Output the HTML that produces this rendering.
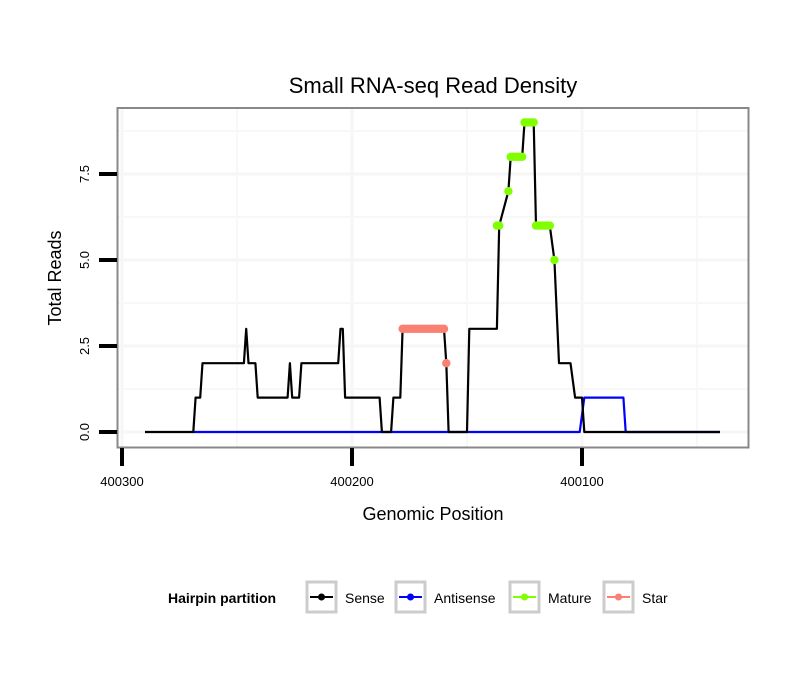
<!DOCTYPE html>
<html><head><meta charset="utf-8"><style>
body{margin:0;background:#fff;}
svg{display:block;font-family:"Liberation Sans",sans-serif;}
</style></head><body>
<svg id="chart" width="810" height="690">
<rect x="0" y="0" width="810" height="690" fill="#fff"/>
<text x="433" y="93" font-size="22" text-anchor="middle">Small RNA-seq Read Density</text>
<rect x="117.5" y="108" width="631" height="339.5" fill="#fff"/>
<g id="grid"></g>
<g id="series"></g>
<rect x="117.5" y="108" width="631" height="339.5" fill="none" stroke="#888" stroke-width="2"/>
<g id="axes"></g>
<text x="433" y="520" font-size="18" text-anchor="middle">Genomic Position</text>
<text transform="translate(61,278) rotate(-90)" font-size="18" text-anchor="middle">Total Reads</text>
<g>
<text x="168" y="603" font-size="14" font-weight="bold">Hairpin partition</text>
<g>
<rect x="307" y="582" width="29" height="30" fill="none" stroke="#ccc" stroke-width="3"/>
<line x1="310" y1="597" x2="333" y2="597" stroke="#000" stroke-width="2"/><circle cx="321.5" cy="597" r="3.5" fill="#000"/>
<text x="345" y="603" font-size="14">Sense</text></g>
<g>
<rect x="396" y="582" width="29" height="30" fill="none" stroke="#ccc" stroke-width="3"/>
<line x1="399" y1="597" x2="422" y2="597" stroke="#00f" stroke-width="2"/><circle cx="410.5" cy="597" r="3.5" fill="#00f"/>
<text x="434" y="603" font-size="14">Antisense</text></g>
<g>
<rect x="510" y="582" width="29" height="30" fill="none" stroke="#ccc" stroke-width="3"/>
<line x1="513" y1="597" x2="536" y2="597" stroke="#7fff00" stroke-width="2"/><circle cx="524.5" cy="597" r="3.5" fill="#7fff00"/>
<text x="548" y="603" font-size="14">Mature</text></g>
<g>
<rect x="604" y="582" width="29" height="30" fill="none" stroke="#ccc" stroke-width="3"/>
<line x1="607" y1="597" x2="630" y2="597" stroke="#fa8072" stroke-width="2"/><circle cx="618.5" cy="597" r="3.5" fill="#fa8072"/>
<text x="642" y="603" font-size="14">Star</text></g>
</g>
</svg>
<script>
const xTicks=[400300,400200,400100];
const xTickLabels=["400300","400200","400100"];
const xMinor=[400250,400150,400050];
const yTicks=[0,2.5,5,7.5];
const yTickLabels=["0.0","2.5","5.0","7.5"];
const yMinor=[1.25,3.75,6.25,8.75];
const senseX=[400290,400269,400268,400266,400265,400247,400246,400245,400242,400241,400228,400227,400226,400223,400222,400206,400205,400204,400203,400188,400187,400183,400182,400179,400178,400160,400159,400158,400150,400149,400137,400136,400132,400131,400126,400125,400121,400120,400114,400112,400110,400105,400103,400100,400099,400040];
const senseY=[0,0,1,1,2,2,3,2,2,1,1,2,1,1,2,2,3,3,1,1,0,0,1,1,3,3,2,0,0,3,3,6,7,8,8,9,9,6,6,5,2,2,1,1,0,0];
const antiX=[400269,400101,400099,400082,400081,400040];
const antiY=[0,0,1,1,0,0];
const matureX=[400137,400136,400132,400131,400130,400129,400128,400127,400126,400125,400124,400123,400122,400121,400120,400119,400118,400117,400116,400115,400114,400112];
const matureY=[6,6,7,8,8,8,8,8,8,9,9,9,9,9,6,6,6,6,6,6,6,5];
const starX=[400178,400177,400176,400175,400174,400173,400172,400171,400170,400169,400168,400167,400166,400165,400164,400163,400162,400161,400160,400159];
const starY=[3,3,3,3,3,3,3,3,3,3,3,3,3,3,3,3,3,3,3,2];

const NS="http://www.w3.org/2000/svg";
function sx(v){return 122+(400300-v)*2.3;}
function sy(v){return 432-v*34.4;}
function mk(tag,attrs,parent){const e=document.createElementNS(NS,tag);for(const k in attrs)e.setAttribute(k,attrs[k]);parent.appendChild(e);return e;}
const grid=document.getElementById('grid'),series=document.getElementById('series'),axes=document.getElementById('axes');
xMinor.forEach(v=>{const l=mk('line',{x1:sx(v),x2:sx(v),y1:109,y2:447,stroke:'#f8f8f8','stroke-width':2},grid);

});
xTicks.forEach(v=>{const l=mk('line',{x1:sx(v),x2:sx(v),y1:109,y2:447,stroke:'#f6f6f6','stroke-width':3},grid);

});
yMinor.forEach(v=>{const l=mk('line',{x1:118,x2:748,y1:sy(v),y2:sy(v),stroke:'#f8f8f8','stroke-width':2},grid);

});
yTicks.forEach(v=>{const l=mk('line',{x1:118,x2:748,y1:sy(v),y2:sy(v),stroke:'#f6f6f6','stroke-width':3},grid);

});
function path(xs,ys,color,name){const d=xs.map((x,i)=>(i?'L':'M')+sx(x).toFixed(1)+','+sy(ys[i]).toFixed(1)).join('');
const p=mk('path',{d:d,fill:'none',stroke:color,'stroke-width':2.2,'stroke-linejoin':'round'},series);

}
path(antiX,antiY,'#0000ff','antisense-line');
path(senseX,senseY,'#000000','sense-line');
function pts(xs,ys,color,name){xs.forEach((x,i)=>{const c=mk('circle',{cx:sx(x),cy:sy(ys[i]),r:4.2,fill:color},series);

});}
pts(matureX,matureY,'#7fff00','mature-point');
pts(starX,starY,'#fa8072','star-point');
yTicks.forEach((v,i)=>{const t=mk('line',{x1:99,x2:117,y1:sy(v),y2:sy(v),stroke:'#000','stroke-width':4},axes);


const lb=mk('text',{transform:`translate(89,${sy(v)}) rotate(-90)`,'font-size':13,'text-anchor':'middle',fill:'#000'},axes);lb.textContent=yTickLabels[i];

});
xTicks.forEach((v,i)=>{const t=mk('line',{x1:sx(v),x2:sx(v),y1:448,y2:466,stroke:'#000','stroke-width':4},axes);


const lb=mk('text',{x:sx(v),y:486,'font-size':13,'text-anchor':'middle',fill:'#000'},axes);lb.textContent=xTickLabels[i];

});
</script>
</body></html>
